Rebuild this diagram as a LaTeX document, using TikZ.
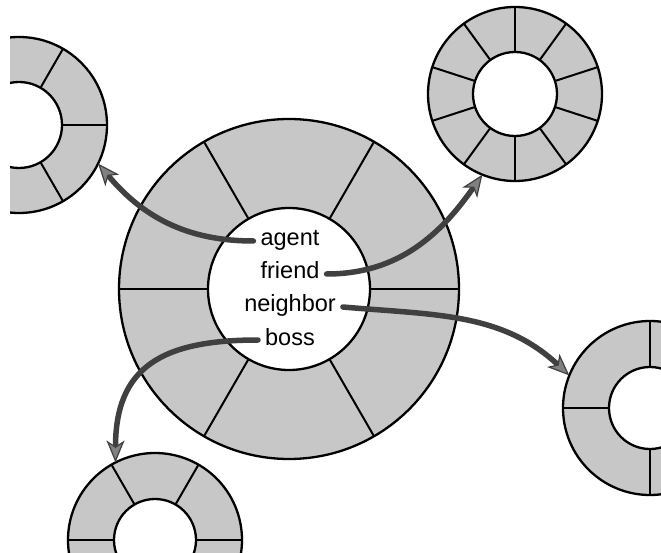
\documentclass[tikz,border=0pt]{standalone}
\usepackage{fontspec}
\setmainfont{Liberation Sans}
\usepackage{tikz}
\usetikzlibrary{arrows.meta}

\begin{document}
\begin{tikzpicture}[
  x=1pt, y=-1pt,
  disc/.style={circle, draw, line width=2.3pt, fill=black!22, inner sep=0pt, outer sep=0pt},
  hole/.style={circle, draw, line width=2.3pt, fill=white, inner sep=0pt, outer sep=0pt},
  spoke/.style={line width=2pt},
  word/.style={font=\fontsize{23.5}{28}\selectfont, anchor=base, inner ysep=0pt, inner xsep=7pt, text height=10pt, text depth=0pt},
  link/.style={line width=5.5pt, draw=black!75, line cap=round, -{Stealth[length=22pt, width=18pt, inset=6pt, line width=1.2pt, fill=black!50]}}
]
\useasboundingbox (0,0) rectangle (661,553);
\clip (10,0) rectangle (661,553);
\foreach \n/\cx/\cy/\R/\r/\k/\o in {main/289/289/170/81/6/0, tl/19/125/88/43/6/0, tr/515/94/87/42/10/18, rt/650/408/87/41/4/0, bt/155/540/87/41/6/0}{
  \node[disc, minimum size={2*\R pt}] (\n) at (\cx,\cy) {};
  \foreach \i [evaluate=\i as \a using \o+360*\i/\k] in {1,...,\k}
    \draw[spoke] (\n.center) -- ++(\a:\R pt);
  \node[hole, minimum size={2*\r pt}] at (\n) {};
}
\node[word] (agent) at (290,246) {agent};
\node[word] (friend) at (290,279) {friend};
\node[word] (neighbor) at (290,312) {neighbor};
\node[word] (boss) at (290,345) {boss};
\draw[link] (agent.west) to[out=180, in=-50] (tl.-26);
\draw[link] (friend.east) to[out=0, in=-125] (tr.-112);
\draw[link] (neighbor.east) to[out=-5, in=137] (rt.158);
\draw[link] (boss.west) to[out=180, in=90, looseness=1.3] (bt.117);
\end{tikzpicture}
\end{document}
